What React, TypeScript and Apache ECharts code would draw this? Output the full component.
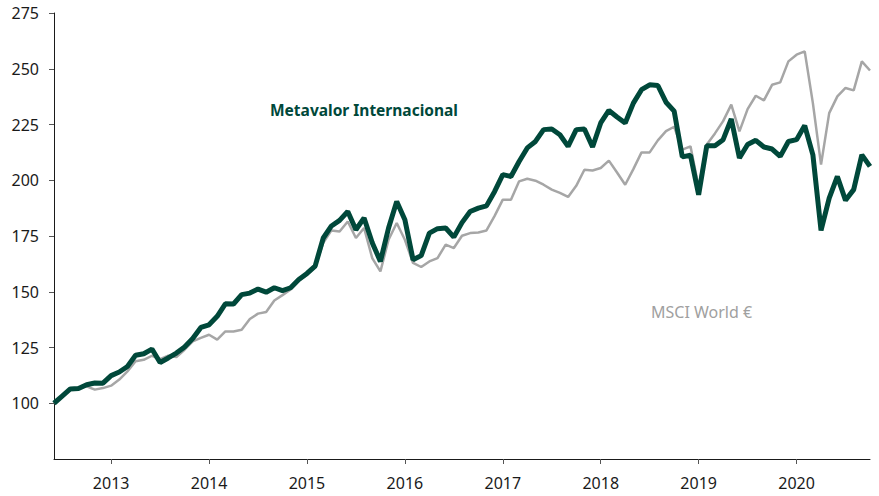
import React, { useEffect, useRef } from "react";
import * as echarts from "echarts";

// Monthly observations, June 2012 .. October 2020
const startYear = 2012;
const startMonth = 6;
const yearLabels = ["2013", "2014", "2015", "2016", "2017", "2018", "2019", "2020"];

const metavalor = [
  100, 103.2, 106.4, 106.6, 108.3, 109.1, 109, 112.4, 114, 116.5, 121.5, 122.2, 124.3, 118.3, 120.3,
  122.5, 125.2, 129, 134, 135.2, 139, 144.6, 144.5, 148.7, 149.4, 151.2, 149.8, 151.8, 150.5, 151.8,
  155.5, 158.2, 161.5, 174.1, 179.5, 182, 186, 177.8, 183.1, 172, 163.6, 178.6, 190.5, 182.3, 164.4,
  166.2, 176.3, 178.3, 178.6, 174.5, 181, 186, 187.5, 188.5, 195, 202.5, 201.7, 208.4, 214.5, 217.4,
  222.7, 223, 220.4, 215.2, 222.7, 223, 214.9, 225.7, 231.3, 228.4, 225.7, 234.6, 240.6, 242.8, 242.5,
  235, 231, 210.5, 211.2, 193.5, 215.5, 215.5, 218.2, 227.5, 210, 216, 217.9, 214.9, 214, 210.7,
  217.4, 218.2, 224.5, 211.4, 177.5, 192, 201.7, 191, 195.8, 211.4, 206.2,
];

const msciWorld = [
  100, 103, 106, 107, 107.6, 106.1, 106.8, 107.9, 110.6, 114.3, 118.8, 119.5, 121.3, 119.8, 121.3,
  120.7, 124, 127.7, 129.3, 130.7, 128.5, 132.2, 132.2, 133, 137.8, 140.2, 140.9, 146.1, 148.5, 151,
  155, 157.5, 161, 172, 177.5, 177, 181.5, 174.1, 178.6, 165.1, 159.1, 173.3, 180.8, 173.3, 162.9,
  161.1, 163.6, 165.1, 171.1, 169.6, 175.1, 176.3, 176.6, 177.5, 184, 191.3, 191.3, 199.5, 200.7, 199.8,
  198, 195.8, 194.3, 192.5, 197.5, 204.7, 204.4, 205.5, 208.8, 203.5, 198, 205, 212.5, 212.5, 217.9,
  222, 224, 213.7, 215.2, 197, 216, 221, 226.5, 233.9, 221.9, 231.9, 237.9, 235.8, 242.8, 243.9,
  253.3, 256.3, 257.8, 234.6, 207, 230.1, 237.6, 241.4, 240.3, 253.3, 249.2,
];

const categories: string[] = metavalor.map((_, i) => {
  const m0 = startMonth - 1 + i;
  const y = startYear + Math.floor(m0 / 12);
  const m = (m0 % 12) + 1;
  return `${y}-${m < 10 ? "0" + m : m}`;
});

const isJan = (_idx: number, value: string) => value.endsWith("-01") && yearLabels.includes(value.slice(0, 4));

export default function App() {
  const ref = useRef<HTMLDivElement>(null);
  useEffect(() => {
    if (!ref.current) return;
    const chart = echarts.init(ref.current, undefined, { renderer: "svg" });
    const font = "'Noto Sans', sans-serif";
    chart.setOption({
      animation: false,
      grid: { left: 54, right: 9, top: 13, bottom: 37, containLabel: false },
      xAxis: {
        type: "category",
        data: categories,
        boundaryGap: false,
        axisLine: { show: true, lineStyle: { color: "#1a1a1a", width: 1 } },
        axisTick: {
          show: true,
          interval: isJan,
          length: 5,
          lineStyle: { color: "#555" },
        },
        axisLabel: {
          interval: isJan,
          formatter: (v: string) => v.slice(0, 4),
          color: "#1a1a1a",
          fontFamily: font,
          fontSize: 16,
          margin: 16,
        },
        splitLine: { show: false },
      },
      yAxis: {
        type: "value",
        min: 75,
        max: 275,
        interval: 25,
        axisLine: { show: true, lineStyle: { color: "#1a1a1a", width: 1 } },
        axisTick: { show: true, length: 5, lineStyle: { color: "#555" } },
        axisLabel: {
          showMinLabel: false,
          color: "#1a1a1a",
          fontFamily: font,
          fontSize: 16,
          margin: 15,
        },
        splitLine: { show: false },
      },
      series: [
        {
          name: "MSCI World €",
          type: "line",
          data: msciWorld,
          symbol: "none",
          lineStyle: { color: "#a6a6a6", width: 2.5 },
          z: 2,
        },
        {
          name: "Metavalor Internacional",
          type: "line",
          data: metavalor,
          symbol: "none",
          lineStyle: { color: "#00483a", width: 5 },
          z: 3,
        },
      ],
      graphic: [
        {
          type: "text",
          left: 270,
          top: 102,
          style: {
            text: "Metavalor Internacional",
            fill: "#00483a",
            font: `bold 15.5px ${font}`,
          },
        },
        {
          type: "text",
          left: 651,
          top: 304,
          style: {
            text: "MSCI World €",
            fill: "#a0a0a0",
            font: `16px ${font}`,
          },
        },
      ],
    });
    return () => chart.dispose();
  }, []);
  return <div ref={ref} style={{ width: 879, height: 496, position: "absolute", left: 0, top: 0 }} />;
}
